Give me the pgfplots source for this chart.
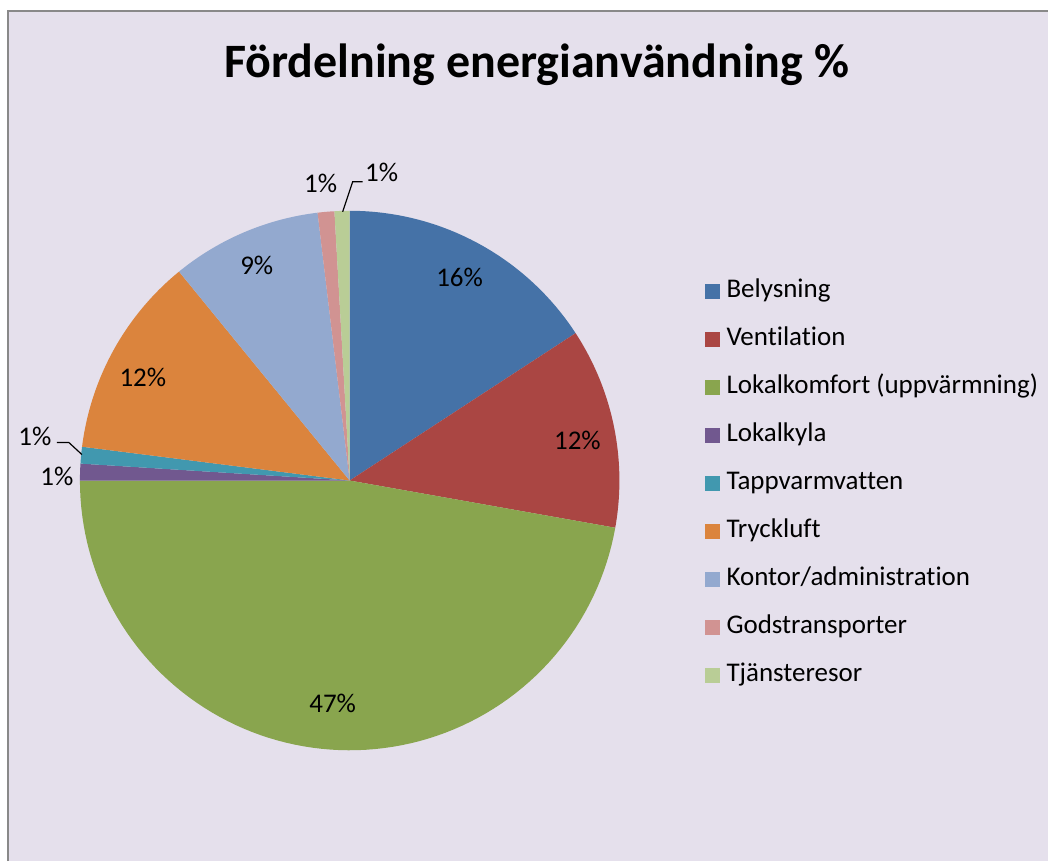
\documentclass[border=0pt]{standalone}
\usepackage{pgfplots}
\pgfplotsset{compat=1.18}
\usepackage{fontspec}
\setmainfont{Carlito}[Ligatures={NoCommon,NoRare,NoContextual}]
\definecolor{bgc}{HTML}{E5E0EC}
\definecolor{frame}{HTML}{898989}
\definecolor{cBel}{HTML}{4572A7}
\definecolor{cVen}{HTML}{AA4643}
\definecolor{cLok}{HTML}{89A54E}
\definecolor{cKyl}{HTML}{71588F}
\definecolor{cTap}{HTML}{4198AF}
\definecolor{cTry}{HTML}{DB843D}
\definecolor{cKon}{HTML}{93A9CF}
\definecolor{cGod}{HTML}{D19392}
\definecolor{cTja}{HTML}{B9CD96}
\newcommand\pieslice[2]{%
  \pgfmathsetmacro\sA{\curang}%
  \pgfmathsetmacro\sB{\curang-#1*3.6}%
  \edef\temp{\noexpand\addplot[fill=#2,draw=none,domain=\sB:\sA,samples=90] ({350+270*cos(x)},{381+270*sin(x)}) -- (axis cs:350,381) -- cycle;}%
  \temp
  \xdef\curang{\sB}%
}
\gdef\curang{90}
\begin{document}
\begin{tikzpicture}[x=1bp,y=1bp]
\path (0,0) rectangle (1049,862);
\fill[bgc] (8,0) rectangle (1049,851);
\draw[frame, line width=2bp] (8,0) -- (8,851) -- (1049,851);
\begin{axis}[
  at={(0,0)}, anchor=south west,
  scale only axis, width=1049bp, height=862bp,
  xmin=0, xmax=1049, ymin=0, ymax=862,
  hide axis, clip=false,
  legend cell align=left,
  legend image code/.code={\fill[#1] (0bp,-7.5bp) rectangle (15bp,7.5bp);},
  legend style={at={(axis cs:705,582)}, anchor=north west, draw=none, fill=none,
    inner sep=0pt, row sep=24bp,
    font=\fontsize{27bp}{32bp}\selectfont,
    nodes={inner sep=0pt, text height=18bp, text depth=6bp},
    /tikz/every odd column/.style={column sep=7bp}},
]
\pieslice{15.8}{cBel}\addlegendentry{Belysning}
\pieslice{12.0}{cVen}\addlegendentry{Ventilation}
\pieslice{47.2}{cLok}\addlegendentry{Lokalkomfort (uppvärmning)}
\pieslice{1.0}{cKyl}\addlegendentry{Lokalkyla}
\pieslice{1.0}{cTap}\addlegendentry{Tappvarmvatten}
\pieslice{12.1}{cTry}\addlegendentry{Tryckluft}
\pieslice{9.0}{cKon}\addlegendentry{Kontor/administration}
\pieslice{1.0}{cGod}\addlegendentry{Godstransporter}
\pieslice{0.9}{cTja}\addlegendentry{Tjänsteresor}
\draw[black, line width=1.2bp] (axis cs:343,650) -- (axis cs:353,680) -- (axis cs:363,680);
\draw[black, line width=1.2bp] (axis cs:82,407) -- (axis cs:69,419) -- (axis cs:57,419);
\begin{scope}[every node/.style={font=\fontsize{27bp}{32bp}\selectfont, inner sep=0pt}]
\node at (axis cs:460,584) {16\%};
\node at (axis cs:578,421) {12\%};
\node at (axis cs:333,158) {47\%};
\node at (axis cs:143,484) {12\%};
\node at (axis cs:257,596) {9\%};
\node at (axis cs:321,678) {1\%};
\node at (axis cs:382,689) {1\%};
\node at (axis cs:35,425) {1\%};
\node at (axis cs:57,385) {1\%};
\end{scope}
\node[font=\fontsize{48bp}{56bp}\selectfont\bfseries, anchor=base] at (axis cs:537,784) {Fördelning energianvändning \%};
\end{axis}
\end{tikzpicture}
\end{document}
